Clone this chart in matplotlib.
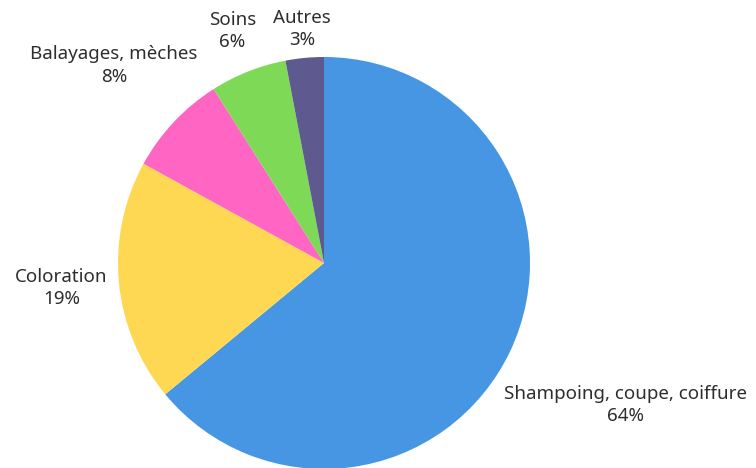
import numpy as np
import matplotlib.pyplot as plt

# données
categories = ["Shampoing, coupe, coiffure", "Coloration", "Balayages, mèches", "Soins", "Autres"]
parts = [64, 19, 8, 6, 3]
couleurs = ["#4796E3", "#FED853", "#FF66C4", "#7ED957", "#5E5A8F"]

# distance des étiquettes (en rayons)
dist_labels = [1.62, 1.28, 1.40, 1.21, 1.14]

W, H = 756, 468
R = 206          # rayon en pixels
cx, cy = 324, 205  # centre (depuis le bas)

fig = plt.figure(figsize=(W / 100, H / 100), dpi=100)
ax = fig.add_axes([0, 0, 1, 1])

wedges, _ = ax.pie(parts, colors=couleurs, startangle=90, counterclock=False,
                   radius=1, wedgeprops=dict(linewidth=0))

ax.set_xlim(-cx / R, (W - cx) / R)
ax.set_ylim(-cy / R, (H - cy) / R)
ax.set_aspect("equal")
ax.axis("off")

for w, cat, p, d in zip(wedges, categories, parts, dist_labels):
    ang = np.deg2rad((w.theta1 + w.theta2) / 2)
    ax.text(d * np.cos(ang), d * np.sin(ang), f"{cat}\n{p}%",
            ha="center", va="center", fontsize=13.5, color="#2e2e2e",
            family="Noto Sans", linespacing=1.3)

fig.savefig("out.png", dpi=100)
